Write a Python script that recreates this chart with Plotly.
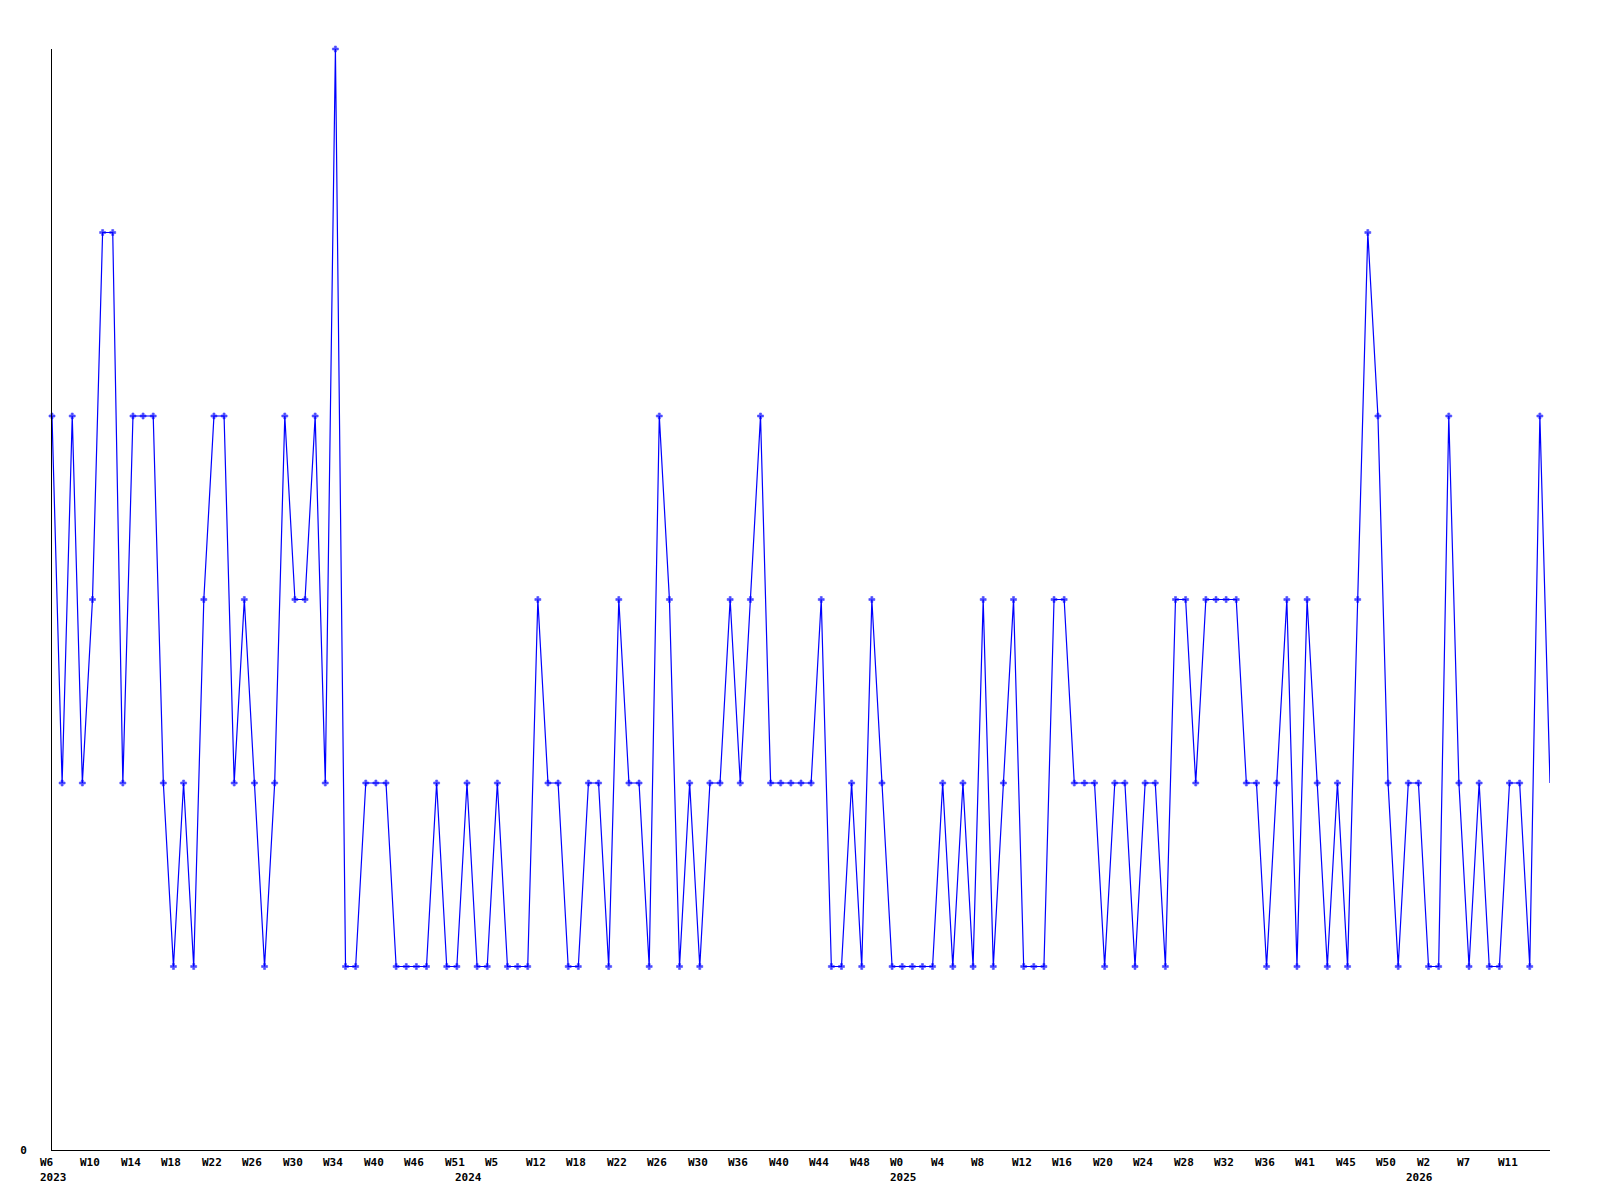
import plotly.graph_objects as go

# weekly counts, 2023 W6 onwards (last week is still open)
counts = [
    4, 2, 4, 2, 3, 5, 5, 2, 4, 4, 4, 2, 1, 2, 1, 3, 4, 4, 2, 3,
    2, 1, 2, 4, 3, 3, 4, 2, 6, 1, 1, 2, 2, 2, 1, 1, 1, 1, 2, 1,
    1, 2, 1, 1, 2, 1, 1, 1, 3, 2, 2, 1, 1, 2, 2, 1, 3, 2, 2, 1,
    4, 3, 1, 2, 1, 2, 2, 3, 2, 3, 4, 2, 2, 2, 2, 2, 3, 1, 1, 2,
    1, 3, 2, 1, 1, 1, 1, 1, 2, 1, 2, 1, 3, 1, 2, 3, 1, 1, 1, 3,
    3, 2, 2, 2, 1, 2, 2, 1, 2, 2, 1, 3, 3, 2, 3, 3, 3, 3, 2, 2,
    1, 2, 3, 1, 3, 2, 1, 2, 1, 3, 5, 4, 2, 1, 2, 2, 1, 1, 4, 2,
    1, 2, 1, 1, 2, 2, 1, 4, 2,
]

# labels shown on every 4th week
tick_weeks = [
    "W6", "W10", "W14", "W18", "W22", "W26", "W30", "W34", "W40", "W46",
    "W51", "W5", "W12", "W18", "W22", "W26", "W30", "W36", "W40", "W44",
    "W48", "W0", "W4", "W8", "W12", "W16", "W20", "W24", "W28", "W32",
    "W36", "W41", "W45", "W50", "W2", "W7", "W11",
]
tick_step = 4

# year labels sit under the first week of each year
year_index = [0, 41, 84, 135]
year_labels = ["2023", "2024", "2025", "2026"]

x = list(range(len(counts)))
font = dict(family="DejaVu Sans Mono", size=11, color="black", weight="bold")

fig = go.Figure()
fig.add_trace(go.Scatter(
    x=x,
    y=counts,
    mode="lines+markers",
    line=dict(color="#0000ff", width=1.2),
    marker=dict(symbol="cross", color="#0000ff",
                size=[5] * (len(counts) - 1) + [0],
                line=dict(color="#0000ff", width=0.6)),
    cliponaxis=False,
    hoverinfo="y",
))

annotations = []
for k, week in enumerate(tick_weeks):
    annotations.append(dict(
        x=k * tick_step, y=0, xref="x", yref="paper",
        text=week, showarrow=False, font=font,
        xanchor="left", yanchor="middle", xshift=-14, yshift=-12,
    ))
for idx, year in zip(year_index, year_labels):
    annotations.append(dict(
        x=idx, y=0, xref="x", yref="paper",
        text=year, showarrow=False, font=font,
        xanchor="left", yanchor="middle", xshift=-14, yshift=-27,
    ))

# page body adds an 8px offset, so margins are trimmed to match
fig.update_layout(
    width=1600,
    height=1200,
    margin=dict(l=41, r=58, t=41, b=58),
    paper_bgcolor="white",
    plot_bgcolor="white",
    showlegend=False,
    annotations=annotations,
    xaxis=dict(
        range=[0, len(counts) - 1],
        showgrid=False, zeroline=False,
        showline=True, linecolor="black", linewidth=1,
        showticklabels=False, ticks="",
    ),
    yaxis=dict(
        range=[0, max(counts)],
        showgrid=False, zeroline=False,
        showline=True, linecolor="black", linewidth=1,
        tickvals=[0], ticktext=["0"], ticks="",
        ticklabelstandoff=22, tickfont=font,
    ),
)

fig.write_html("out.html")
